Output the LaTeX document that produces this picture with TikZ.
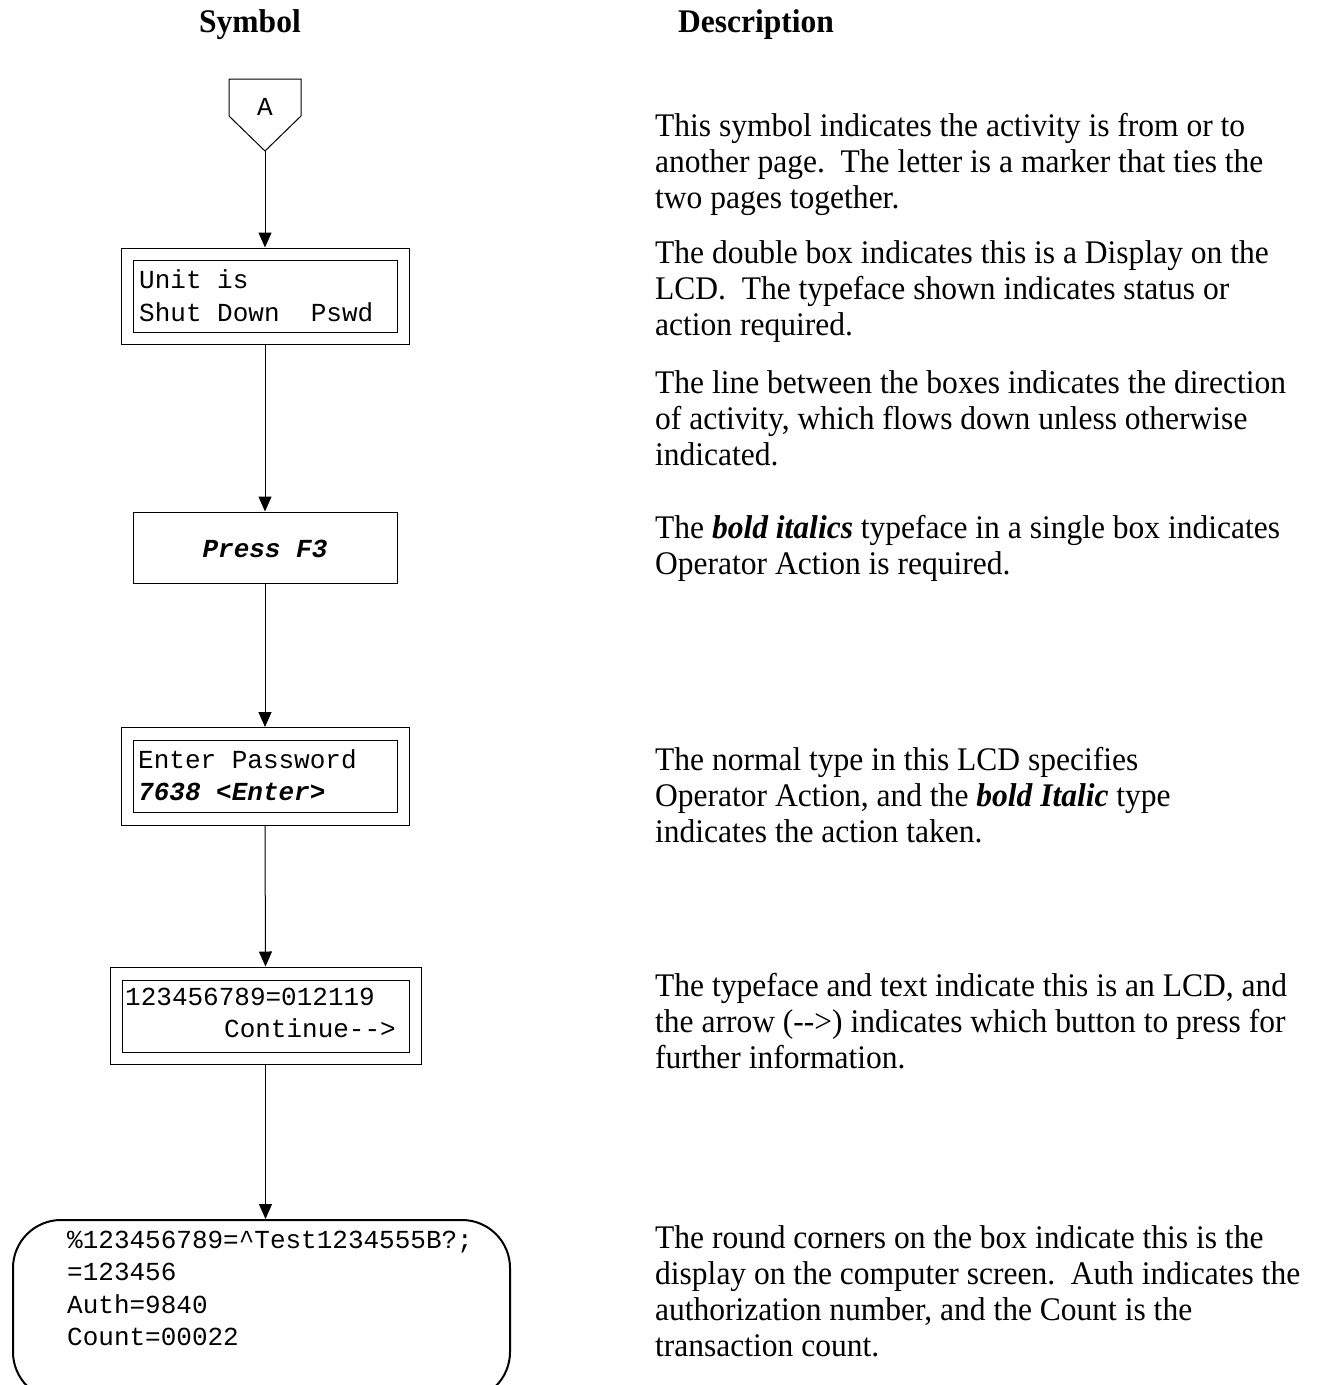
\documentclass[tikz,border=0pt]{standalone}
\usepackage{fontspec}
\setmainfont{Liberation Serif}[FakeStretch=0.955]
\setmonofont{Liberation Mono}
\usetikzlibrary{arrows.meta}

\tikzset{
  head/.style={font=\fontsize{33}{36}\selectfont\bfseries, inner sep=0pt},
  desc/.style={font=\fontsize{33}{36}\selectfont, anchor=base west, inner sep=0pt},
  lcd/.style={font=\fontsize{26}{32}\selectfont\ttfamily, anchor=base west, inner sep=0pt},
  act/.style={font=\fontsize{26}{32}\selectfont\ttfamily\bfseries\itshape},
  frame/.style={draw, line width=1pt, inner sep=0pt},
  screen/.style={draw, line width=2pt, rounded corners=48pt, inner sep=0pt},
  flow/.style={draw, line width=1pt, -{Triangle[length=15pt,width=13pt]}},
}

\begin{document}
\begin{tikzpicture}[x=1pt,y=-1pt]
\useasboundingbox (0,0) rectangle (1327,1385);
\clip (0,0) rectangle (1327,1385);

% column headings
\node[head, anchor=base] (hsym) at (250,32) {Symbol};
\node[head, anchor=base west] (hdesc) at (678,32) {Description};

% off-page connector
\draw[line width=1pt] (229,79) -- (301,79) -- (301,116) -- (265,151) -- (229,116) -- cycle;
\coordinate (tip) at (265,151);
\node[font=\fontsize{26}{30}\selectfont\ttfamily, anchor=base, inner sep=0pt] (mark) at (265,115) {A};

% LCD display: Unit is Shut Down
\node[frame, minimum width=288pt, minimum height=96pt] (b1o) at (265,296) {};
\node[frame, minimum width=264pt, minimum height=72pt] (b1) at (265,296) {};
\node[lcd] (t1a) at (139,288) {Unit is};
\node[lcd] (t1b) at (139,321) {Shut Down\ \ Pswd};

% operator action
\node[frame, minimum width=264pt, minimum height=71pt] (press) at (265,547.5) {};
\node[act, anchor=base, inner sep=0pt] (tpress) at (265,557) {Press F3};

% LCD display: Enter Password
\node[frame, minimum width=288pt, minimum height=98pt] (b2o) at (265,776.5) {};
\node[frame, minimum width=264pt, minimum height=72pt] (b2) at (265,776) {};
\node[lcd] (t2a) at (138,768) {Enter Password};
\node[lcd, act, anchor=base west] (t2b) at (138,800) {7638 <Enter>};

% LCD display: card number
\node[frame, minimum width=311pt, minimum height=97pt] (b3o) at (265.5,1015.5) {};
\node[frame, minimum width=287pt, minimum height=72pt] (b3) at (265.5,1016) {};
\node[lcd] (t3a) at (125,1005) {123456789=012119};
\node[lcd, anchor=base east] (t3b) at (396,1037) {Continue-{}->};

% computer screen
\node[screen, minimum width=497pt, minimum height=180pt] (scr) at (261.5,1310) {};
\node[lcd] (s1) at (67,1248) {\%123456789=\textasciicircum Test1234555B?;};
\node[lcd] (s2) at (67,1280) {=123456};
\node[lcd] (s3) at (67,1313) {Auth=9840};
\node[lcd] (s4) at (67,1345) {Count=00022};

% flow connectors
\draw[flow] (tip) -- (b1o.north);
\draw[flow] (b1o.south) -- (press.north);
\draw[flow] (press.south) -- (b2o.north);
\draw[flow] (b2o.south) -- (b3o.north);
\draw[flow] (b3o.south) -- (b3o.south |- scr.north);

% descriptions
\node[desc] (d1a) at (655,136) {This symbol indicates the activity is from or to};
\node[desc] (d1b) at (655,172) {another page.\ \ The letter is a marker that ties the};
\node[desc] (d1c) at (655,208) {two pages together.};

\node[desc] (d2a) at (655,263) {The double box indicates this is a Display on the};
\node[desc] (d2b) at (655,299) {LCD.\ \ The typeface shown indicates status or};
\node[desc] (d2c) at (655,335) {action required.};

\node[desc] (d3a) at (655,393) {The line between the boxes indicates the direction};
\node[desc] (d3b) at (655,429) {of activity, which flows down unless otherwise};
\node[desc] (d3c) at (655,465) {indicated.};

\node[desc] (d4a) at (655,538) {The \textbf{\textit{bold italics}} typeface in a single box indicates};
\node[desc] (d4b) at (655,574) {Operator Action is required.};

\node[desc] (d5a) at (655,770) {The normal type in this LCD specifies};
\node[desc] (d5b) at (655,806) {Operator Action, and the \textbf{\textit{bold Italic}} type};
\node[desc] (d5c) at (655,842) {indicates the action taken.};

\node[desc] (d6a) at (655,996) {The typeface and text indicate this is an LCD, and};
\node[desc] (d6b) at (655,1032) {the arrow (-{}->) indicates which button to press for};
\node[desc] (d6c) at (655,1068) {further information.};

\node[desc] (d7a) at (655,1248) {The round corners on the box indicate this is the};
\node[desc] (d7b) at (655,1284) {display on the computer screen.\ \ Auth indicates the};
\node[desc] (d7c) at (655,1320) {authorization number, and the Count is the};
\node[desc] (d7d) at (655,1356) {transaction count.};
\end{tikzpicture}
\end{document}
